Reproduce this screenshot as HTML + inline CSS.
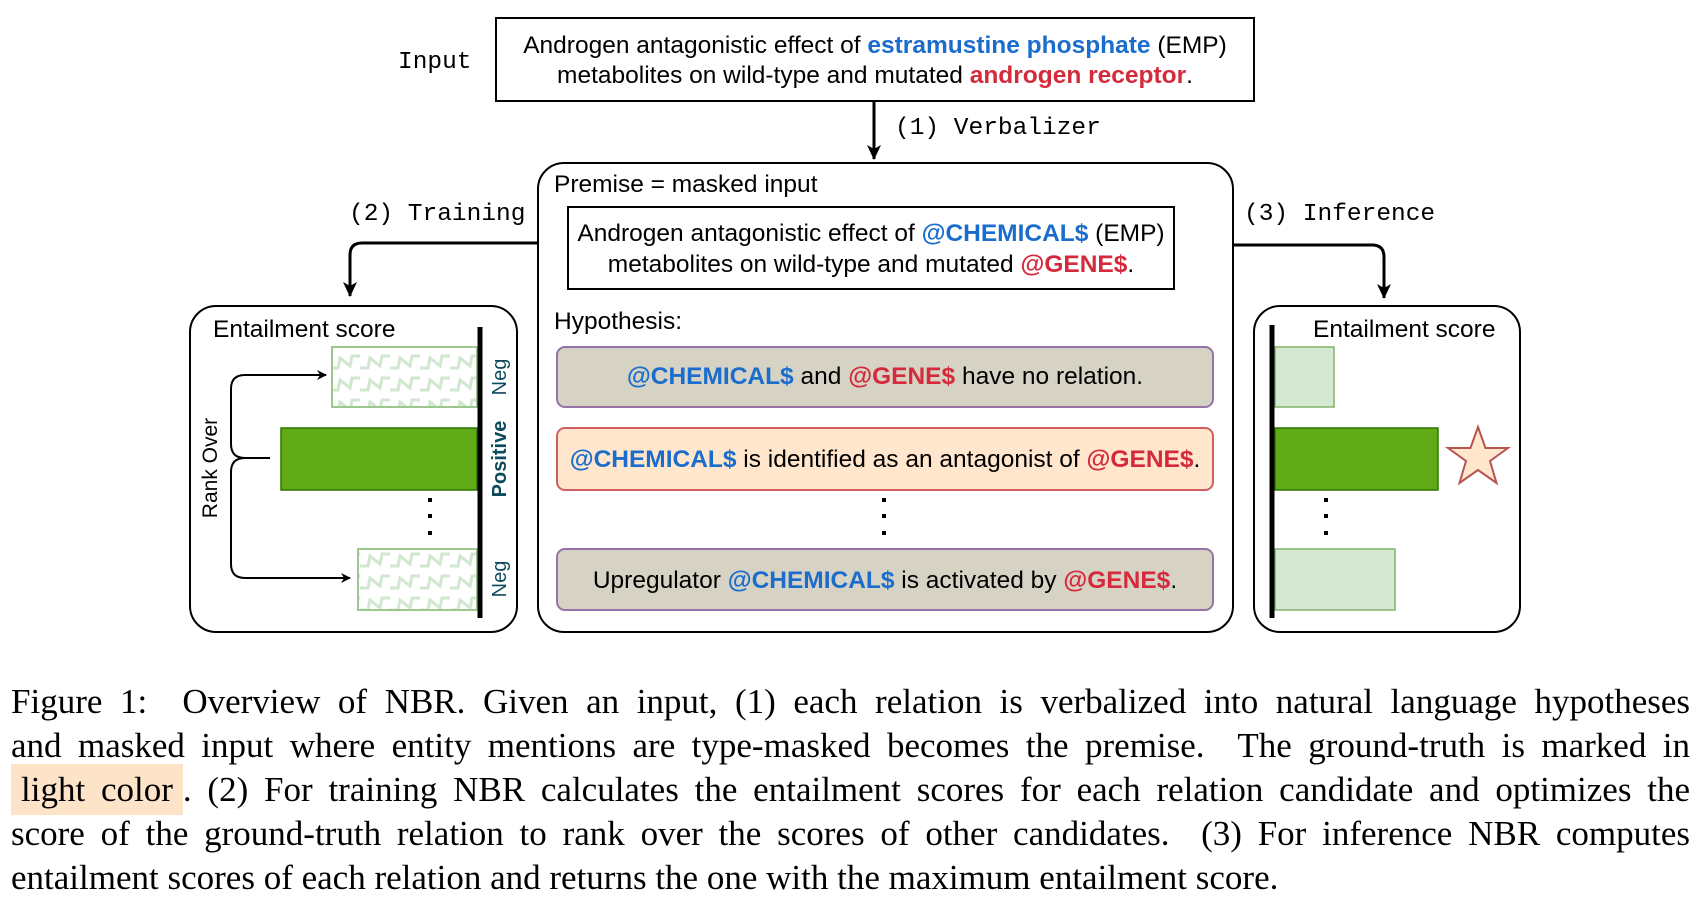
<!DOCTYPE html>
<html><head><meta charset="utf-8"><style>
body{margin:0;background:#fff;width:1699px;height:904px;overflow:hidden;position:relative}
svg{position:absolute;left:0;top:0}
.cap{position:absolute;left:11px;top:680px;width:1679px;font-family:"Liberation Serif",serif;font-size:35px;line-height:44px;color:#000}
.cap div{text-align:justify;text-align-last:justify;white-space:nowrap;height:44px}
.cap div.last{text-align-last:left}
.hl{background:#fde3c8;padding:6px 10px;}
</style></head><body>
<svg width="1699" height="904" viewBox="0 0 1699 904" font-family="Liberation Sans, sans-serif">
<defs>
<marker id="ah" markerWidth="10" markerHeight="10" refX="9" refY="5" orient="auto" markerUnits="userSpaceOnUse"><path d="M0,0 L10,5 L0,10 L3,5 z" fill="#000"/></marker>
<marker id="ah2" markerWidth="16" markerHeight="16" refX="14" refY="8" orient="auto" markerUnits="userSpaceOnUse"><path d="M0,1 L15,8 L0,15 L4,8 z" fill="#000"/></marker>
<pattern id="zz" width="30" height="22" patternUnits="userSpaceOnUse"><path d="M0,16 L8,16 L10,6 L20,14 L22,4 L30,4" stroke="#d2e7cf" stroke-width="3" fill="none"/></pattern>
</defs>
<text x="398" y="68" font-family="Liberation Mono, monospace" font-size="24.5">Input</text>
<rect x="496" y="18" width="758" height="83" fill="#fff" stroke="#000" stroke-width="2"/>
<text x="875" y="53" font-size="24.5" text-anchor="middle">Androgen antagonistic effect of <tspan fill="#1a6dcc" font-weight="bold">estramustine phosphate</tspan> (EMP)</text>
<text x="875" y="83" font-size="24.5" text-anchor="middle">metabolites on wild-type and mutated <tspan fill="#d42a3c" font-weight="bold">androgen receptor</tspan>.</text>
<line x1="874" y1="101" x2="874" y2="159" stroke="#000" stroke-width="3" marker-end="url(#ah2)"/>
<text x="895" y="134" font-family="Liberation Mono, monospace" font-size="24.5">(1) Verbalizer</text>
<rect x="538" y="163" width="695" height="469" rx="26" fill="#fff" stroke="#000" stroke-width="2"/>
<text x="554" y="192" font-size="24.5">Premise = masked input</text>
<rect x="568" y="207" width="606" height="82" fill="#fff" stroke="#000" stroke-width="2"/>
<text x="871" y="241" font-size="24.5" text-anchor="middle">Androgen antagonistic effect of <tspan fill="#1a6dcc" font-weight="bold">@CHEMICAL$</tspan> (EMP)</text>
<text x="871" y="272" font-size="24.5" text-anchor="middle">metabolites on wild-type and mutated <tspan fill="#d42a3c" font-weight="bold">@GENE$</tspan>.</text>
<text x="554" y="329" font-size="24.5">Hypothesis:</text>
<rect x="557" y="347" width="656" height="60" rx="8" fill="#d6d2c4" stroke="#9673a6" stroke-width="2"/>
<text x="885" y="384" font-size="24.5" text-anchor="middle"><tspan fill="#1a6dcc" font-weight="bold">@CHEMICAL$</tspan> and <tspan fill="#d42a3c" font-weight="bold">@GENE$</tspan> have no relation.</text>
<rect x="557" y="428" width="656" height="62" rx="8" fill="#ffe6cc" stroke="#d06060" stroke-width="2"/>
<text x="885" y="467" font-size="24.5" text-anchor="middle"><tspan fill="#1a6dcc" font-weight="bold">@CHEMICAL$</tspan> is identified as an antagonist of <tspan fill="#d42a3c" font-weight="bold">@GENE$</tspan>.</text>
<g fill="#000"><rect x="882" y="498" width="4" height="4"/><rect x="882" y="514" width="4" height="4"/><rect x="882" y="531" width="4" height="4"/></g>
<rect x="557" y="549" width="656" height="61" rx="8" fill="#d6d2c4" stroke="#9673a6" stroke-width="2"/>
<text x="885" y="588" font-size="24.5" text-anchor="middle">Upregulator <tspan fill="#1a6dcc" font-weight="bold">@CHEMICAL$</tspan> is activated by <tspan fill="#d42a3c" font-weight="bold">@GENE$</tspan>.</text>
<path d="M538,243 L362,243 Q350,243 350,255 L350,296" fill="none" stroke="#000" stroke-width="3" marker-end="url(#ah2)"/>
<text x="349" y="220" font-family="Liberation Mono, monospace" font-size="24.5">(2) Training</text>
<path d="M1233,245 L1372,245 Q1384,245 1384,257 L1384,298" fill="none" stroke="#000" stroke-width="3" marker-end="url(#ah2)"/>
<text x="1244" y="220" font-family="Liberation Mono, monospace" font-size="24.5">(3) Inference</text>
<rect x="190" y="306" width="327" height="326" rx="26" fill="#fff" stroke="#000" stroke-width="2"/>
<text x="213" y="337" font-size="24.5">Entailment score</text>
<rect x="332" y="347" width="145" height="60" fill="url(#zz)" stroke="#9cc78f" stroke-width="2"/>
<rect x="281" y="428" width="196" height="62" fill="#60a917" stroke="#2d7600" stroke-width="1.5"/>
<rect x="358" y="549" width="119" height="61" fill="url(#zz)" stroke="#9cc78f" stroke-width="2"/>
<line x1="480" y1="327" x2="480" y2="618" stroke="#000" stroke-width="5"/>
<g fill="#000"><rect x="428" y="498" width="4" height="4"/><rect x="428" y="514" width="4" height="4"/><rect x="428" y="531" width="4" height="4"/></g>
<g fill="#0d4a5c" font-size="20">
<text transform="translate(506,377) rotate(-90)" text-anchor="middle">Neg</text>
<text transform="translate(506,459) rotate(-90)" text-anchor="middle" font-weight="bold">Positive</text>
<text transform="translate(506,579) rotate(-90)" text-anchor="middle">Neg</text>
</g>
<text transform="translate(217,468) rotate(-90)" text-anchor="middle" font-size="21">Rank Over</text>
<path d="M245,375 Q231,375 231,389 L231,444 Q231,458 245,458 L270,458 M245,458 Q231,458 231,472 L231,564 Q231,578 245,578" fill="none" stroke="#000" stroke-width="2"/>
<path d="M245,375 L326,375" stroke="#000" stroke-width="2" marker-end="url(#ah)"/>
<path d="M245,578 L350,578" stroke="#000" stroke-width="2" marker-end="url(#ah)"/>
<rect x="1254" y="306" width="266" height="326" rx="26" fill="#fff" stroke="#000" stroke-width="2"/>
<text x="1313" y="337" font-size="24.5">Entailment score</text>
<rect x="1275" y="347" width="59" height="60" fill="#d5e8d4" stroke="#82b366" stroke-width="1.5"/>
<rect x="1275" y="428" width="163" height="62" fill="#60a917" stroke="#2d7600" stroke-width="1.5"/>
<rect x="1275" y="549" width="120" height="61" fill="#d5e8d4" stroke="#82b366" stroke-width="1.5"/>
<line x1="1272" y1="325" x2="1272" y2="618" stroke="#000" stroke-width="5"/>
<g fill="#000"><rect x="1324" y="498" width="4" height="4"/><rect x="1324" y="514" width="4" height="4"/><rect x="1324" y="531" width="4" height="4"/></g>
<polygon points="1478,427 1485.5,448 1508,448 1490,461 1496.5,483 1478,470 1459.5,483 1466,461 1448,448 1470.5,448" fill="#ffe6cc" stroke="#b85450" stroke-width="2"/>
</svg>
<div class="cap">
<div>Figure 1: &nbsp;Overview of NBR. Given an input, (1) each relation is verbalized into natural language hypotheses</div>
<div>and masked input where entity mentions are type-masked becomes the premise. &nbsp;The ground-truth is marked in</div>
<div><span class="hl">light color</span>. (2) For training NBR calculates the entailment scores for each relation candidate and optimizes the</div>
<div>score of the ground-truth relation to rank over the scores of other candidates. &nbsp;(3) For inference NBR computes</div>
<div class="last">entailment scores of each relation and returns the one with the maximum entailment score.</div>
</div>
</body></html>
